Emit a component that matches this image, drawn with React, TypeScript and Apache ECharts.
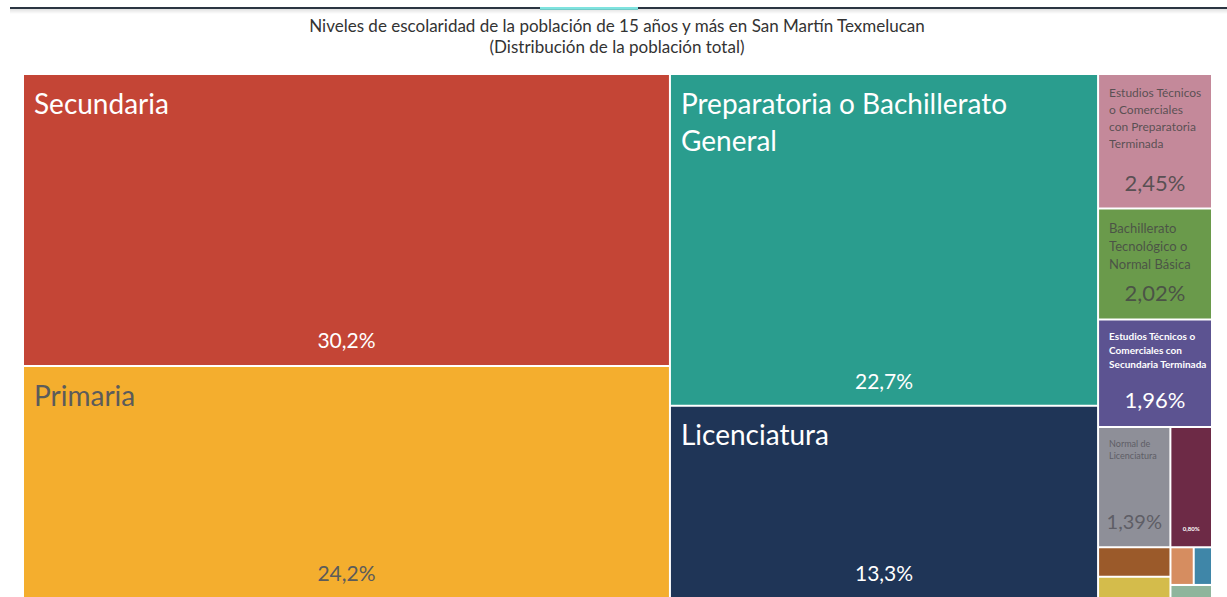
import React, { useEffect, useRef } from "react";
import * as echarts from "echarts";

// ---- data ----
const categories = [
  "Secundaria",
  "Primaria",
  "Preparatoria o Bachillerato General",
  "Licenciatura",
  "Estudios Técnicos o Comerciales con Preparatoria Terminada",
  "Bachillerato Tecnológico o Normal Básica",
  "Estudios Técnicos o Comerciales con Secundaria Terminada",
  "Normal de Licenciatura",
  "Maestría",
  "Preescolar",
  "Estudios Técnicos o Comerciales con Primaria Terminada",
  "Normal Preescolar",
  "Doctorado",
  "Normal Primaria",
];
const shares = [30.2, 24.2, 22.7, 13.3, 2.45, 2.02, 1.96, 1.39, 0.8, 0.34, 0.27, 0.14, 0.11, 0.1];
// label texts as wrapped in the tiles ("" = no name label shown)
const nameLabels = [
  "Secundaria",
  "Primaria",
  "Preparatoria o Bachillerato\nGeneral",
  "Licenciatura",
  "Estudios Técnicos\no Comerciales\ncon Preparatoria\nTerminada",
  "Bachillerato\nTecnológico o\nNormal Básica",
  "Estudios Técnicos o\nComerciales con\nSecundaria Terminada",
  "Normal de\nLicenciatura",
  "",
  "",
  "",
  "",
  "",
  "",
];
const showPct = [true, true, true, true, true, true, true, true, true, false, false, false, false, false];

const titleLines = [
  "Niveles de escolaridad de la población de 15 años y más en San Martín Texmelucan",
  "(Distribución de la población total)",
];

// ---- styles ----
const palette = [
  "#c44536", "#f4ae2e", "#2a9d8e", "#1f3557", "#c4899a", "#6a9a4b", "#5c5391",
  "#8e8f98", "#6d2a46", "#9b5a2a", "#d4bc4b", "#d68d60", "#3f86a8", "#8fb59c",
];
const FONT = "Lato, 'Open Sans', sans-serif";
const DARK = "rgba(70,70,70,0.85)";
type St = { nSize: number; nColor: string; nWeight: any; nLH: number; pSize: number; pColor: string; pWeight: any; pDist: number };
const tileStyles: St[] = [
  { nSize: 28, nColor: "#fff", nWeight: "normal", nLH: 37, pSize: 21, pColor: "#fff", pWeight: "normal", pDist: 13 },
  { nSize: 28, nColor: "#5b5b5b", nWeight: "normal", nLH: 37, pSize: 21, pColor: "#5b5b5b", pWeight: "normal", pDist: 14 },
  { nSize: 28, nColor: "#fff", nWeight: "normal", nLH: 37, pSize: 21, pColor: "#fff", pWeight: "normal", pDist: 12 },
  { nSize: 28, nColor: "#fff", nWeight: "normal", nLH: 37, pSize: 21, pColor: "#fff", pWeight: "normal", pDist: 14 },
  { nSize: 12, nColor: DARK, nWeight: "normal", nLH: 17, pSize: 22, pColor: DARK, pWeight: "normal", pDist: 12 },
  { nSize: 13, nColor: DARK, nWeight: "normal", nLH: 18, pSize: 22, pColor: DARK, pWeight: "normal", pDist: 13 },
  { nSize: 10, nColor: "#fff", nWeight: "bold", nLH: 14, pSize: 22, pColor: "#fff", pWeight: "normal", pDist: 14 },
  { nSize: 9, nColor: "#5e5e66", nWeight: "normal", nLH: 12, pSize: 20, pColor: "#5e5e66", pWeight: "normal", pDist: 13 },
  { nSize: 6, nColor: "#fff", nWeight: "bold", nLH: 8, pSize: 6, pColor: "#fff", pWeight: "bold", pDist: 13 },
];

const fmtPct = (v: number) => (v >= 10 ? v.toFixed(1) : v.toFixed(2)).replace(".", ",") + "%";

const RECT = { left: 24, top: 75, width: 1187, height: 524 };

export default function App() {
  const ref = useRef<HTMLDivElement>(null);
  useEffect(() => {
    if (!ref.current) return;
    document.body.style.margin = "0";
    const chart = echarts.init(ref.current, null, { renderer: "svg" });

    const common = {
      type: "treemap",
      ...RECT,
      roam: false,
      nodeClick: false,
      silent: true,
      breadcrumb: { show: false },
      visibleMin: 0,
      sort: "desc",
    };

    const nameData = categories.map((c, i) => {
      const st = tileStyles[i];
      return {
        name: c,
        value: shares[i],
        itemStyle: { color: palette[i] },
        label: st && nameLabels[i]
          ? {
              show: true,
              formatter: () => nameLabels[i],
              fontSize: st.nSize,
              color: st.nColor,
              fontWeight: st.nWeight,
              lineHeight: st.nLH,
            }
          : { show: false },
      };
    });

    const pctData = categories.map((c, i) => {
      const st = tileStyles[i];
      return {
        name: c,
        value: shares[i],
        itemStyle: { color: "rgba(0,0,0,0)", borderColor: "rgba(0,0,0,0)" },
        label: st && showPct[i]
          ? {
              show: true,
              position: "insideBottom",
              distance: st.pDist,
              fontSize: st.pSize,
              color: st.pColor,
              fontWeight: st.pWeight,
              lineHeight: st.pSize + 4,
            }
          : { show: false },
      };
    });

    chart.setOption({
      animation: false,
      backgroundColor: "#ffffff",
      graphic: [
        { type: "rect", left: 10, top: 7, shape: { width: 1217, height: 2 }, style: { fill: "#2b3542" }, silent: true },
        { type: "rect", left: 540, top: 7, shape: { width: 98, height: 3 }, style: { fill: "#7fe3df" }, silent: true },
        {
          type: "rect",
          left: 10,
          top: 9,
          shape: { width: 1217, height: 5 },
          style: {
            fill: new echarts.graphic.LinearGradient(0, 0, 0, 1, [
              { offset: 0, color: "rgba(0,0,0,0.12)" },
              { offset: 1, color: "rgba(0,0,0,0)" },
            ]),
          },
          silent: true,
        },
        {
          type: "text",
          x: 617,
          y: 15,
          silent: true,
          style: {
            text: titleLines.join("\n"),
            align: "center",
            verticalAlign: "top",
            font: "normal 17px " + FONT,
            lineHeight: 21,
            fill: "#333",
          },
        },
      ],
      series: [
        {
          ...common,
          levels: [{ itemStyle: { gapWidth: 2, borderWidth: 0, borderColor: "#ffffff" } }],
          label: {
            show: true,
            position: "insideTopLeft",
            padding: [9, 10, 4, 10],
            fontFamily: FONT,
            overflow: "none",
          },
          itemStyle: { borderWidth: 0, borderColor: "#ffffff" },
          data: nameData,
        },
        {
          ...common,
          levels: [{ itemStyle: { gapWidth: 2, borderWidth: 0, borderColor: "rgba(0,0,0,0)" } }],
          label: {
            show: true,
            padding: 0,
            fontFamily: FONT,
            overflow: "none",
            formatter: (p: any) => fmtPct(p.value),
          },
          itemStyle: { borderWidth: 0, borderColor: "rgba(0,0,0,0)", color: "rgba(0,0,0,0)" },
          data: pctData,
        },
      ],
    });
    return () => chart.dispose();
  }, []);
  return <div ref={ref} style={{ position: "absolute", left: 0, top: 0, width: 1227, height: 597 }} />;
}
